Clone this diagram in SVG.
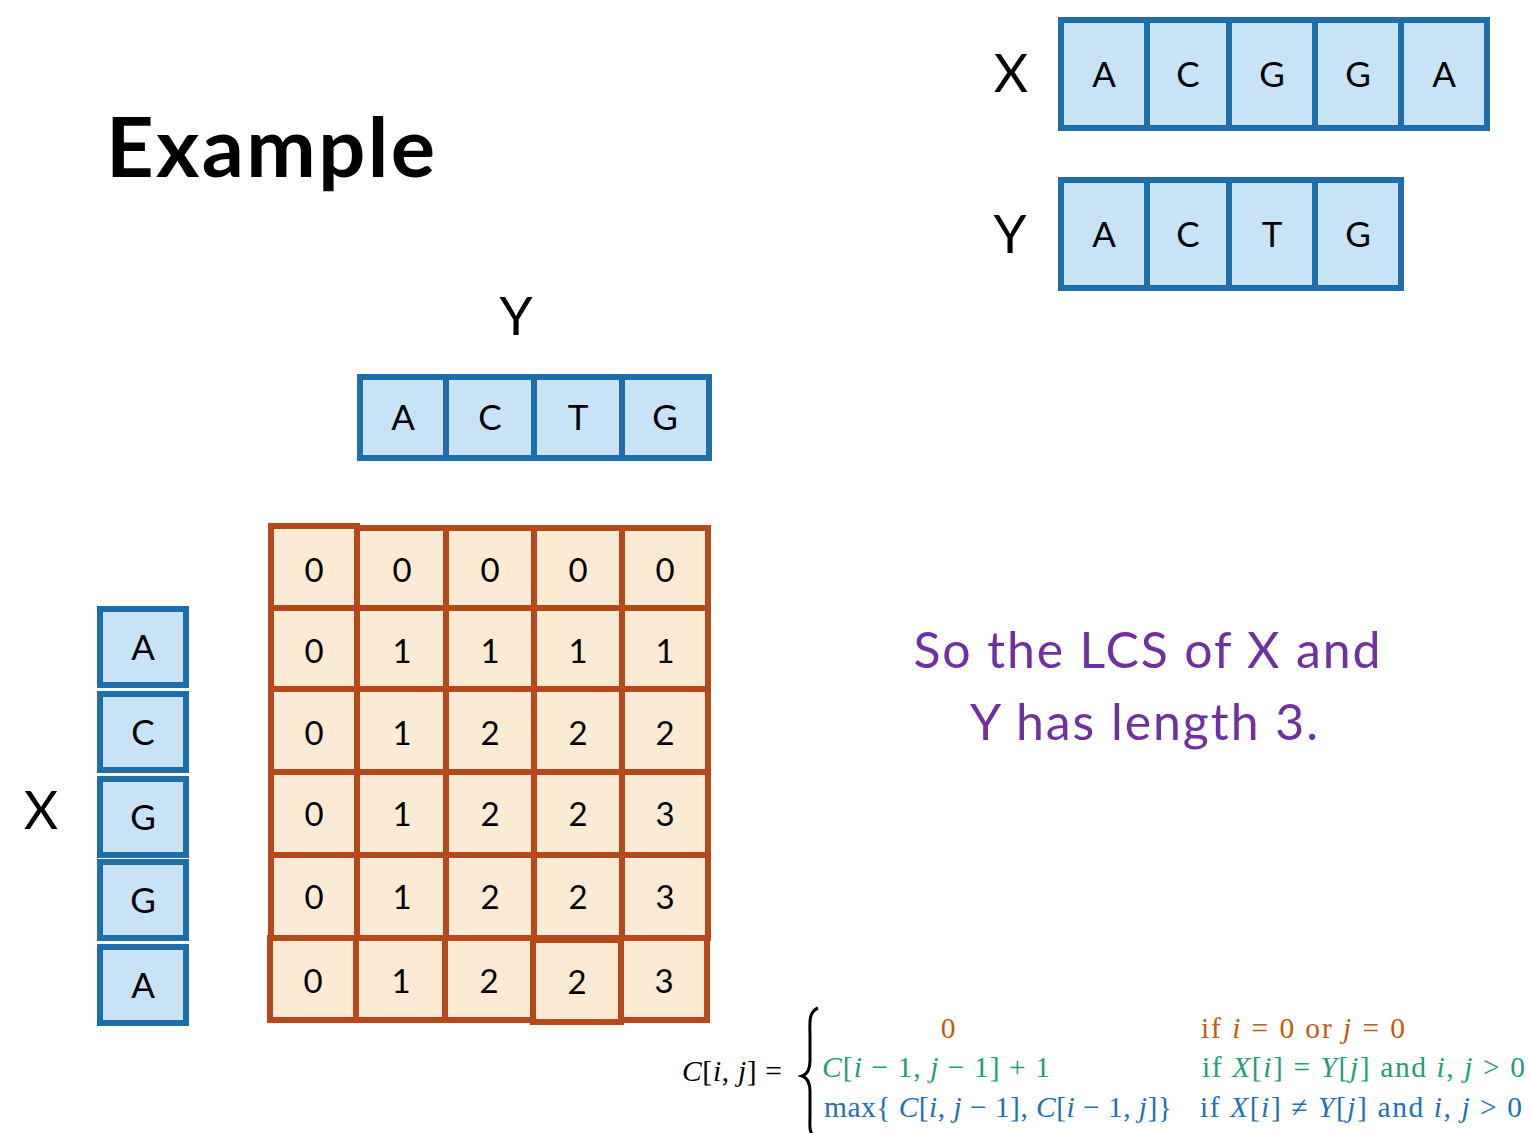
<svg xmlns="http://www.w3.org/2000/svg" width="1531" height="1133" viewBox="0 0 1531 1133">
<style>
.bc{fill:#C9E3F6;stroke:#1F6EAA;stroke-width:6}
.gc{fill:#FCEBD4;stroke:#B5491B;stroke-width:6}
.lt{font-family:Lato,"Open Sans","Liberation Sans",sans-serif;font-size:35px;fill:#000;text-anchor:middle}
.dg{font-family:Lato,"Open Sans","Liberation Sans",sans-serif;font-size:33px;fill:#000;text-anchor:middle}
.lb{font-family:Lato,"Open Sans","Liberation Sans",sans-serif;font-size:53px;fill:#000;text-anchor:middle}
.fm{font-family:"Liberation Serif","DejaVu Serif",serif;font-size:29.5px}
.it{font-style:italic}
</style>
<rect width="1531" height="1133" fill="#fff"/>
<g id="title"><text x="106" y="177" font-family="Lato,'Open Sans','Liberation Sans',sans-serif" font-weight="bold" font-size="83" textLength="329" fill="#000">Example</text></g>

<g id="seqX">
<text class="lb" x="1011" y="92">X</text>
<g id="x1"><rect class="bc" x="1061" y="20" width="86" height="108"/><text class="lt" x="1104" y="87">A</text></g>
<g id="x2"><rect class="bc" x="1147" y="20" width="82" height="108"/><text class="lt" x="1188" y="87">C</text></g>
<g id="x3"><rect class="bc" x="1229" y="20" width="86" height="108"/><text class="lt" x="1272" y="87">G</text></g>
<g id="x4"><rect class="bc" x="1315" y="20" width="86" height="108"/><text class="lt" x="1358" y="87">G</text></g>
<g id="x5"><rect class="bc" x="1401" y="20" width="86" height="108"/><text class="lt" x="1444" y="87">A</text></g>
</g>

<g id="seqY">
<text class="lb" x="1010" y="253">Y</text>
<g id="y1"><rect class="bc" x="1061" y="180" width="86" height="108"/><text class="lt" x="1104" y="247">A</text></g>
<g id="y2"><rect class="bc" x="1147" y="180" width="82" height="108"/><text class="lt" x="1188" y="247">C</text></g>
<g id="y3"><rect class="bc" x="1229" y="180" width="86" height="108"/><text class="lt" x="1272" y="247">T</text></g>
<g id="y4"><rect class="bc" x="1315" y="180" width="86" height="108"/><text class="lt" x="1358" y="247">G</text></g>
</g>

<g id="colY">
<text class="lb" x="516" y="335">Y</text>
<g id="cy1"><rect class="bc" x="360" y="377" width="86" height="81"/><text class="lt" x="403" y="430">A</text></g>
<g id="cy2"><rect class="bc" x="446" y="377" width="88" height="81"/><text class="lt" x="490" y="430">C</text></g>
<g id="cy3"><rect class="bc" x="534" y="377" width="88" height="81"/><text class="lt" x="578" y="430">T</text></g>
<g id="cy4"><rect class="bc" x="622" y="377" width="87" height="81"/><text class="lt" x="665" y="430">G</text></g>
</g>

<g id="rowX">
<text class="lb" x="41" y="829">X</text>
<g id="rx1"><rect class="bc" x="100" y="609" width="86" height="76"/><text class="lt" x="143" y="660">A</text></g>
<g id="rx2"><rect class="bc" x="100" y="694" width="86" height="76"/><text class="lt" x="143" y="745">C</text></g>
<g id="rx3"><rect class="bc" x="100" y="779" width="86" height="76"/><text class="lt" x="143" y="830">G</text></g>
<g id="rx4"><rect class="bc" x="100" y="862" width="86" height="76"/><text class="lt" x="143" y="913">G</text></g>
<g id="rx5"><rect class="bc" x="100" y="947" width="86" height="76"/><text class="lt" x="143" y="998">A</text></g>
</g>

<g id="table">
<g id="r0">
<rect class="gc" x="271" y="526" width="86" height="82"/><text class="dg" x="314" y="582">0</text>
<rect class="gc" x="357" y="528" width="89" height="80"/><text class="dg" x="402" y="582">0</text>
<rect class="gc" x="446" y="528" width="88" height="80"/><text class="dg" x="490" y="582">0</text>
<rect class="gc" x="534" y="528" width="88" height="80"/><text class="dg" x="578" y="582">0</text>
<rect class="gc" x="622" y="528" width="86" height="80"/><text class="dg" x="665" y="582">0</text>
</g>
<g id="r1">
<rect class="gc" x="271" y="608" width="86" height="81"/><text class="dg" x="314" y="663">0</text>
<rect class="gc" x="357" y="608" width="89" height="81"/><text class="dg" x="402" y="663">1</text>
<rect class="gc" x="446" y="608" width="88" height="81"/><text class="dg" x="490" y="663">1</text>
<rect class="gc" x="534" y="608" width="88" height="81"/><text class="dg" x="578" y="663">1</text>
<rect class="gc" x="622" y="608" width="86" height="81"/><text class="dg" x="665" y="663">1</text>
</g>
<g id="r2">
<rect class="gc" x="271" y="689" width="86" height="83"/><text class="dg" x="314" y="745">0</text>
<rect class="gc" x="357" y="689" width="89" height="83"/><text class="dg" x="402" y="745">1</text>
<rect class="gc" x="446" y="689" width="88" height="83"/><text class="dg" x="490" y="745">2</text>
<rect class="gc" x="534" y="689" width="88" height="83"/><text class="dg" x="578" y="745">2</text>
<rect class="gc" x="622" y="689" width="86" height="83"/><text class="dg" x="665" y="745">2</text>
</g>
<g id="r3">
<rect class="gc" x="271" y="772" width="86" height="83"/><text class="dg" x="314" y="826">0</text>
<rect class="gc" x="357" y="772" width="89" height="83"/><text class="dg" x="402" y="826">1</text>
<rect class="gc" x="446" y="772" width="88" height="83"/><text class="dg" x="490" y="826">2</text>
<rect class="gc" x="534" y="772" width="88" height="83"/><text class="dg" x="578" y="826">2</text>
<rect class="gc" x="622" y="772" width="86" height="83"/><text class="dg" x="665" y="826">3</text>
</g>
<g id="r4">
<rect class="gc" x="271" y="855" width="86" height="83"/><text class="dg" x="314" y="909">0</text>
<rect class="gc" x="357" y="855" width="89" height="83"/><text class="dg" x="402" y="909">1</text>
<rect class="gc" x="446" y="855" width="88" height="83"/><text class="dg" x="490" y="909">2</text>
<rect class="gc" x="534" y="855" width="88" height="83"/><text class="dg" x="578" y="909">2</text>
<rect class="gc" x="622" y="855" width="86" height="83"/><text class="dg" x="665" y="909">3</text>
</g>
<g id="r5">
<rect class="gc" x="270" y="938" width="86" height="82"/><text class="dg" x="313" y="993">0</text>
<rect class="gc" x="356" y="938" width="89" height="82"/><text class="dg" x="401" y="993">1</text>
<rect class="gc" x="445" y="938" width="88" height="82"/><text class="dg" x="489" y="993">2</text>
<rect class="gc" x="533" y="940" width="88" height="82"/><text class="dg" x="577" y="994">2</text>
<rect class="gc" x="621" y="938" width="86" height="82"/><text class="dg" x="664" y="993">3</text>
</g>
</g>

<g id="conclusion" font-family="Lato,'Open Sans','Liberation Sans',sans-serif" font-size="50" fill="#7030A0" text-anchor="middle">
<text x="1147" y="668" textLength="467">So the LCS of X and</text>
<text x="1144" y="740" textLength="348">Y has length 3.</text>
</g>

<g id="formula" class="fm">
<text x="682" y="1081" textLength="100"><tspan class="it">C</tspan>[<tspan class="it">i</tspan>, <tspan class="it">j</tspan>] =</text>
<path d="M818 1008 C808 1012 810 1024 810 1036 L810 1060 C810 1069 808 1074 802 1076 C808 1078 810 1083 810 1092 L810 1116 C810 1128 808 1134 818 1138" fill="none" stroke="#000" stroke-width="3"/>
<g fill="#C55A11">
<text x="948" y="1038" text-anchor="middle">0</text>
<text x="1201" y="1038" textLength="204">if  <tspan class="it">i</tspan> = 0 or <tspan class="it">j</tspan> = 0</text>
</g>
<g fill="#1F9E78">
<text x="822" y="1077" textLength="228"><tspan class="it">C</tspan>[<tspan class="it">i</tspan> − 1, <tspan class="it">j</tspan> − 1] + 1</text>
<text x="1202" y="1077" textLength="323">if <tspan class="it">X</tspan>[<tspan class="it">i</tspan>] = <tspan class="it">Y</tspan>[<tspan class="it">j</tspan>]  and <tspan class="it">i</tspan>, <tspan class="it">j</tspan> &gt; 0</text>
</g>
<g fill="#2171B5">
<text x="824" y="1117" textLength="348">max{ <tspan class="it">C</tspan>[<tspan class="it">i</tspan>, <tspan class="it">j</tspan> − 1], <tspan class="it">C</tspan>[<tspan class="it">i</tspan> − 1, <tspan class="it">j</tspan>]}</text>
<text x="1200" y="1117" textLength="322">if <tspan class="it">X</tspan>[<tspan class="it">i</tspan>] ≠ <tspan class="it">Y</tspan>[<tspan class="it">j</tspan>]  and <tspan class="it">i</tspan>, <tspan class="it">j</tspan> &gt; 0</text>
</g>
</g>
</svg>
